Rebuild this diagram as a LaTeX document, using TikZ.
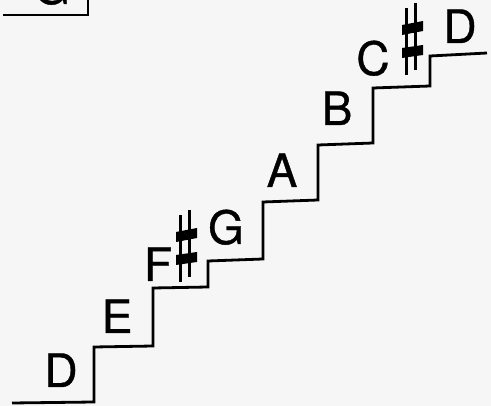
\documentclass[tikz,border=0pt]{standalone}
\usepackage{fontspec}
\setmainfont{TeX Gyre Heros}
\newfontfamily\notefont{TeX Gyre Heros}[FakeBold=0.8]
\definecolor{paper}{RGB}{246,246,246}
\tikzset{
  stair/.style={line width=2.8pt, line join=miter},
  note/.style={inner sep=0pt, font=\notefont\fontsize{46}{46}\selectfont},
  sharpsign/.pic={
    \draw[line width=3pt] (0,0) -- (0,-67);
    \draw[line width=3pt] (9,-5) -- (9,-72);
    \fill (-4.5,-40) -- (-4.5,-50) -- (16.5,-54) -- (16.5,-44) -- cycle;
    \fill (-4.5,-17) -- (-4.5,-27) -- (16.5,-30) -- (16.5,-20) -- cycle;
  }
}
\begin{document}
\begin{tikzpicture}[x=1pt,y=-1pt]
\useasboundingbox (0,0) rectangle (491,406);
\clip (0,0) rectangle (491,406);
\fill[paper] (0,0) rectangle (491,406);
% top-left partial step
\draw[stair] (3,15) coordinate (t0) -- (88,15) coordinate (t1) -- (88,-5) coordinate (t2);
\node[note, anchor=base] (gtop) at (52,4) {G};
% staircase
\draw[stair] (12,403) coordinate (s0) -- (94,402) coordinate (s1) -- (94,347) coordinate (s2)
  -- (153,346) coordinate (s3) -- (153,288) coordinate (s4)
  -- (208,287) coordinate (s5) -- (208,261) coordinate (s6)
  -- (263,259) coordinate (s7) -- (263,202) coordinate (s8)
  -- (318,200) coordinate (s9) -- (318,145) coordinate (s10)
  -- (373,143) coordinate (s11) -- (373,88) coordinate (s12)
  -- (430,86) coordinate (s13) -- (430,56) coordinate (s14)
  -- (487,53) coordinate (s15);
% labels
\node[note, anchor=base] (d1) at (61,387) {D};
\node[note, anchor=base] (e) at (117,333) {E};
\node[note, anchor=base] (f) at (158,281) {F};
\pic at (180.5,282) {sharpsign};
\node[note, anchor=base] (g) at (226,244) {G};
\node[note, anchor=base] (a) at (282,187) {A};
\node[note, anchor=base] (b) at (337,125) {B};
\node[note, anchor=base] (c) at (373,75) {C};
\pic at (406.5,75) {sharpsign};
\node[note, anchor=base] (d2) at (460,43) {D};
\end{tikzpicture}
\end{document}
